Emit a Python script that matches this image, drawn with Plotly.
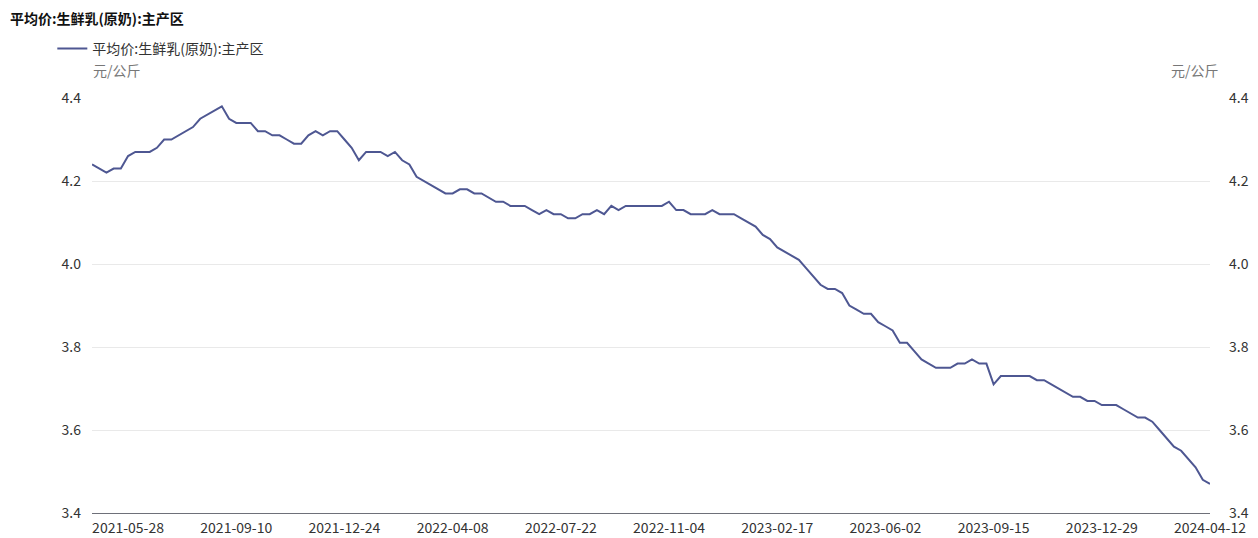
import pandas as pd
import plotly.graph_objects as go

title_text = "平均价:生鲜乳(原奶):主产区"
series_name = "平均价:生鲜乳(原奶):主产区"
unit_text = "元/公斤"

dates = pd.date_range("2021-04-23", periods=156, freq="7D")

values = [
    4.24, 4.23, 4.22, 4.23, 4.23, 4.26, 4.27, 4.27, 4.27, 4.28,
    4.30, 4.30, 4.31, 4.32, 4.33, 4.35, 4.36, 4.37, 4.38, 4.35,
    4.34, 4.34, 4.34, 4.32, 4.32, 4.31, 4.31, 4.30, 4.29, 4.29,
    4.31, 4.32, 4.31, 4.32, 4.32, 4.30, 4.28, 4.25, 4.27, 4.27,
    4.27, 4.26, 4.27, 4.25, 4.24, 4.21, 4.20, 4.19, 4.18, 4.17,
    4.17, 4.18, 4.18, 4.17, 4.17, 4.16, 4.15, 4.15, 4.14, 4.14,
    4.14, 4.13, 4.12, 4.13, 4.12, 4.12, 4.11, 4.11, 4.12, 4.12,
    4.13, 4.12, 4.14, 4.13, 4.14, 4.14, 4.14, 4.14, 4.14, 4.14,
    4.15, 4.13, 4.13, 4.12, 4.12, 4.12, 4.13, 4.12, 4.12, 4.12,
    4.11, 4.10, 4.09, 4.07, 4.06, 4.04, 4.03, 4.02, 4.01, 3.99,
    3.97, 3.95, 3.94, 3.94, 3.93, 3.90, 3.89, 3.88, 3.88, 3.86,
    3.85, 3.84, 3.81, 3.81, 3.79, 3.77, 3.76, 3.75, 3.75, 3.75,
    3.76, 3.76, 3.77, 3.76, 3.76, 3.71, 3.73, 3.73, 3.73, 3.73,
    3.73, 3.72, 3.72, 3.71, 3.70, 3.69, 3.68, 3.68, 3.67, 3.67,
    3.66, 3.66, 3.66, 3.65, 3.64, 3.63, 3.63, 3.62, 3.60, 3.58,
    3.56, 3.55, 3.53, 3.51, 3.48, 3.47,
]

tick_labels = [
    "2021-05-28", "2021-09-10", "2021-12-24", "2022-04-08", "2022-07-22",
    "2022-11-04", "2023-02-17", "2023-06-02", "2023-09-15", "2023-12-29",
    "2024-04-12",
]
y_ticks = [3.4, 3.6, 3.8, 4.0, 4.2, 4.4]

FONT = "Noto Sans CJK SC, Microsoft YaHei, sans-serif"
LINE_COLOR = "#4e5792"
W, H = 1258, 538
ML, MR, MT, MB = 92, 48, 98, 25

fig = go.Figure()
fig.add_trace(go.Scatter(
    x=dates, y=values, mode="lines", name=series_name,
    line=dict(color=LINE_COLOR, width=2),
))
# mirror trace so the right-hand axis is drawn
fig.add_trace(go.Scatter(
    x=dates, y=values, mode="lines", yaxis="y2", showlegend=False,
    line=dict(color=LINE_COLOR, width=2), opacity=0, hoverinfo="skip",
))

yax = dict(
    range=[3.4, 4.4], tickvals=y_ticks, ticktext=[f"{v:.1f}" for v in y_ticks],
    showgrid=True, gridcolor="#e9e9e9", gridwidth=1, zeroline=False,
    showline=False, ticks="", automargin=False,
    tickfont=dict(size=14, color="#333333", family=FONT),
)

pw = W - ML - MR
ph = H - MT - MB
def px_x(x):
    return (x - ML) / pw
def px_y(y):
    return (H - MB - y) / ph

fig.update_layout(
    width=W, height=H, autosize=False,
    margin=dict(l=ML, r=MR, t=MT, b=MB),
    paper_bgcolor="white", plot_bgcolor="white",
    font=dict(family=FONT, size=14, color="#333333"),
    xaxis=dict(
        type="date", range=[dates[0], dates[-1]],
        tickvals=pd.to_datetime(tick_labels), ticktext=tick_labels,
        showgrid=False, zeroline=False, showline=True, linecolor="#6e7079",
        linewidth=1, ticks="", ticklabelstandoff=2, automargin=False,
        tickfont=dict(size=14, color="#333333", family=FONT),
    ),
    yaxis=dict(**yax, side="left", ticklabelstandoff=10),
    yaxis2=dict(**yax, side="right", overlaying="y", ticklabelstandoff=18),
    showlegend=True,
    legend=dict(
        x=-0.0355, y=1 - 33 / H, xref="paper", yref="container",
        xanchor="left", yanchor="top",
        orientation="h", itemwidth=30,
        font=dict(size=14, color="#333333", family=FONT),
        bgcolor="rgba(0,0,0,0)",
    ),
)

fig.add_annotation(text=f"<b>{title_text}</b>", x=px_x(8), y=px_y(18),
                   xref="paper", yref="paper", xanchor="left", yanchor="middle",
                   showarrow=False, font=dict(size=14, color="#111111", family=FONT))
fig.add_annotation(text=unit_text, x=px_x(91), y=px_y(70),
                   xref="paper", yref="paper", xanchor="left", yanchor="middle",
                   showarrow=False, font=dict(size=14, color="#777777", family=FONT))
fig.add_annotation(text=unit_text, x=px_x(1221), y=px_y(70),
                   xref="paper", yref="paper", xanchor="right", yanchor="middle",
                   showarrow=False, font=dict(size=14, color="#777777", family=FONT))

fig.write_html(
    "out.html",
    config={"responsive": False, "displayModeBar": False},
    post_script="document.body.style.margin='0';document.body.style.overflow='hidden';",
)
